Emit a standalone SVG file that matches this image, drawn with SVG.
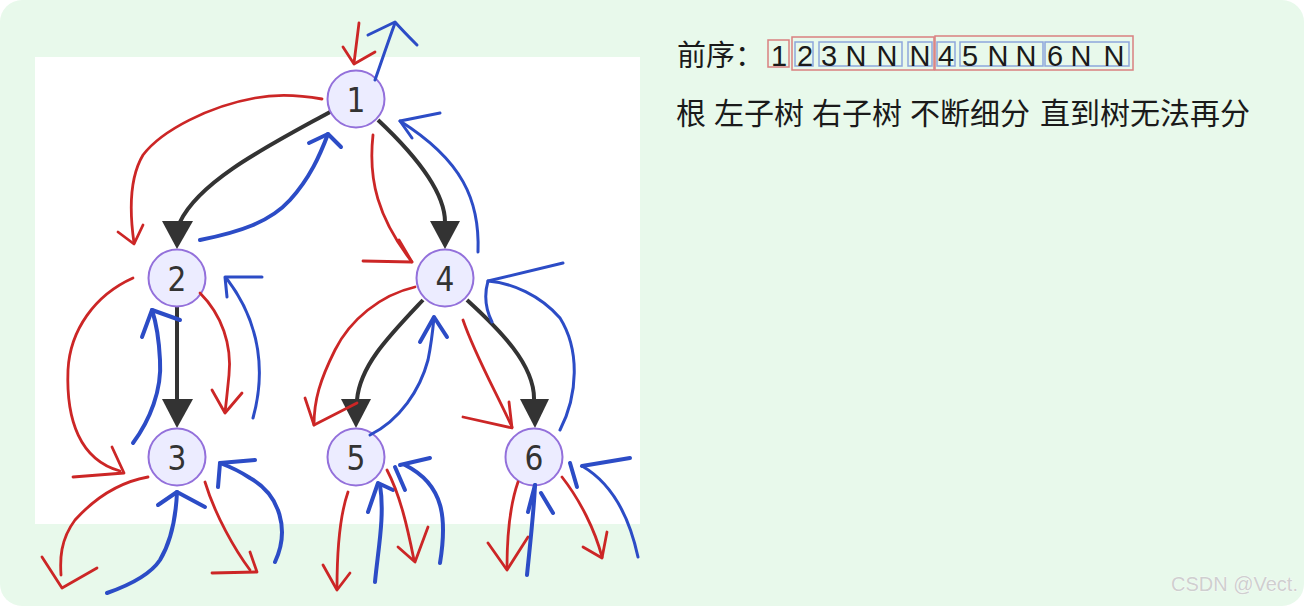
<svg xmlns="http://www.w3.org/2000/svg" width="1304" height="606" viewBox="0 0 1304 606">
<defs>
<style>
.bg{fill:#e8f9eb}
.panel{fill:#ffffff}
.node circle{fill:#ececff;stroke:#9370db;stroke-width:2}
.node text{font-family:"DejaVu Sans","Noto Sans",sans-serif;font-stretch:condensed;font-size:33px;fill:#333;text-anchor:middle}
.edge{fill:none;stroke:#333;stroke-width:4}
.head{fill:#333}
.r{fill:none;stroke:#cc2626;stroke-width:2.8;stroke-linecap:round;stroke-linejoin:round}
.b{fill:none;stroke:#2c4cc6;stroke-width:3;stroke-linecap:round;stroke-linejoin:round}
.bt{stroke-width:4}
.t{font-family:"Noto Sans CJK SC","Noto Sans",sans-serif;fill:#1a1a1a}
.d{font-family:"Liberation Sans",Arial,sans-serif;font-size:29px;fill:#1a1a1a;text-anchor:middle}
.rb{fill:none;stroke:#d98080;stroke-width:1.5}
.bb{fill:none;stroke:#8da6dc;stroke-width:1.5}
.wm{font-family:"Liberation Sans",Arial,sans-serif;font-size:20px;fill:#cfcfcf;stroke:#ffffff;stroke-width:0.6;paint-order:stroke;text-anchor:end}
</style>
</defs>
<rect x="0" y="0" width="1304" height="606" fill="#ffffff"/>
<rect class="bg" x="0" y="0" width="1304" height="606" rx="22"/>
<rect class="panel" x="35" y="57" width="605" height="467"/>

<g id="connectors">
<path class="edge" d="M330,112 C 270,145 200,180 180,222"/>
<polygon class="head" points="162,221 193,221 177,249"/>
<path class="edge" d="M378,120 C 410,150 445,190 445,222"/>
<polygon class="head" points="430,221 460,221 445,249"/>
<path class="edge" d="M177,307 L177,400"/>
<polygon class="head" points="162,399 193,399 177,428"/>
<path class="edge" d="M423,300 C 390,335 360,365 357,400"/>
<polygon class="head" points="341,399 371,399 356,428"/>
<path class="edge" d="M467,300 C 500,330 535,365 534,400"/>
<polygon class="head" points="520,399 549,399 535,428"/>
</g>

<g id="node1" class="node"><circle cx="356" cy="99" r="28.5"/><text x="356" y="112">1</text></g>
<g id="node2" class="node"><circle cx="177" cy="278" r="28.5"/><text x="177" y="291">2</text></g>
<g id="node3" class="node"><circle cx="177" cy="457" r="28.5"/><text x="177" y="470">3</text></g>
<g id="node4" class="node"><circle cx="445" cy="278" r="28.5"/><text x="445" y="291">4</text></g>
<g id="node5" class="node"><circle cx="356" cy="457" r="28.5"/><text x="356" y="470">5</text></g>
<g id="node6" class="node"><circle cx="534" cy="457" r="28.5"/><text x="534" y="470">6</text></g>

<g id="annotations">
<path class="r" d="M359,23 L354,63"/>
<path class="r" d="M343,47 L354,64 L375,52"/>
<path class="b" d="M375,80 C 382,60 388,42 395,23"/>
<path class="b" d="M368,35 L395,22 C 402,30 410,38 417,45"/>
<path class="r" d="M322,99 C 300,95 275,94 255,98 C 210,106 162,130 143,155 C 128,180 130,215 134,243"/>
<path class="r" d="M118,232 L134,244 L143,225"/>
<path class="b bt" d="M200,240 C 240,232 270,222 290,200 C 310,178 320,155 328,134"/>
<path class="b bt" d="M309,143 L328,134 L341,147"/>
<path class="r" d="M373,135 C 368,180 378,218 412,262"/>
<path class="r" d="M363,261 L412,262 L399,240"/>
<path class="b" d="M478,252 C 480,200 462,160 400,121"/>
<path class="b" d="M440,113 L400,121 L412,138"/>
<path class="r" d="M133,278 C 95,295 70,330 68,370 C 66,420 80,460 120,471"/>
<path class="r" d="M73,477 L124,473 L112,447"/>
<path class="b bt" d="M133,443 C 150,420 162,390 160,360 C 159,340 156,322 152,310"/>
<path class="b bt" d="M142,337 L152,310 L180,320"/>
<path class="r" d="M200,293 C 222,315 232,345 229,375 C 227,395 226,405 225,412"/>
<path class="r" d="M212,390 L225,413 L242,393"/>
<path class="b" d="M253,418 C 265,375 262,325 227,279"/>
<path class="b" d="M262,277 L225,277 L227,297"/>
<path class="r" d="M415,287 C 380,295 350,320 335,350 C 320,380 314,400 314,425"/>
<path class="r" d="M305,398 L314,425 L357,403"/>
<path class="b" d="M370,435 C 400,420 420,390 428,360 C 432,340 433,328 434,317"/>
<path class="b bt" d="M420,342 L434,317 L447,337"/>
<path class="r" d="M463,320 C 475,355 495,390 512,427"/>
<path class="r" d="M463,417 L512,428 L509,402"/>
<path class="b" d="M560,430 C 578,395 580,350 560,318 C 540,295 512,283 488,281"/>
<path class="b" d="M563,263 L488,281 C 484,295 486,310 492,322"/>
<path class="r" d="M148,477 C 120,482 95,498 75,520 C 60,540 60,560 61,575"/>
<path class="r" d="M42,557 L62,588 L97,568"/>
<path class="b bt" d="M107,593 C 130,585 150,575 160,560 C 172,540 176,515 177,492"/>
<path class="b bt" d="M158,505 L177,492 L205,507"/>
<path class="r" d="M205,482 C 215,515 235,550 250,570"/>
<path class="r" d="M212,573 L257,572 L250,552"/>
<path class="b bt" d="M275,562 C 290,530 280,495 250,478 C 238,470 228,466 220,463"/>
<path class="b bt" d="M255,460 L220,463 L218,487"/>
<path class="r" d="M348,492 C 340,515 337,550 337,588"/>
<path class="r" d="M323,565 L337,590 L350,573"/>
<path class="b bt" d="M375,582 C 378,550 385,515 380,485"/>
<path class="b bt" d="M368,512 L378,483 L393,490"/>
<path class="r" d="M387,470 C 400,495 407,525 414,560"/>
<path class="r" d="M398,547 L415,562 L428,527"/>
<path class="b bt" d="M395,467 L405,490"/>
<path class="b bt" d="M440,563 C 447,520 445,485 405,465"/>
<path class="b bt" d="M430,458 L400,465"/>
<path class="r" d="M518,482 C 510,505 507,540 507,568"/>
<path class="r" d="M488,543 L507,570 L528,537"/>
<path class="b bt" d="M527,575 C 530,545 534,510 535,485"/>
<path class="b bt" d="M528,512 L535,485"/>
<path class="b bt" d="M541,493 L553,513"/>
<path class="r" d="M562,477 C 580,500 595,530 602,557"/>
<path class="r" d="M583,547 L602,558 L607,532"/>
<path class="b bt" d="M570,463 L577,487"/>
<path class="b" d="M638,557 C 630,520 615,485 582,466"/>
<path class="b bt" d="M630,458 L582,466"/>
</g>

<g id="preorder">
<text class="t" x="677" y="66" font-size="29">前序：</text>
<rect class="rb" x="768" y="40" width="21" height="27"/>
<rect class="rb" x="792" y="37" width="142" height="33"/>
<rect class="bb" x="795" y="42" width="18" height="24"/>
<rect class="bb" x="819" y="42" width="83" height="24"/>
<rect class="bb" x="908" y="42" width="24" height="24"/>
<rect class="rb" x="935" y="36" width="198" height="34"/>
<rect class="bb" x="937" y="42" width="18" height="24"/>
<rect class="bb" x="960" y="42" width="83" height="24"/>
<rect class="bb" x="1045" y="42" width="84" height="24"/>
<text class="d" x="779" y="66">1</text>
<text class="d" x="805" y="66">2</text>
<text class="d" x="829" y="66">3</text>
<text class="d" x="856" y="66">N</text>
<text class="d" x="887" y="66">N</text>
<text class="d" x="920" y="66">N</text>
<text class="d" x="946" y="66">4</text>
<text class="d" x="970" y="66">5</text>
<text class="d" x="998" y="66">N</text>
<text class="d" x="1026" y="66">N</text>
<text class="d" x="1055" y="66">6</text>
<text class="d" x="1081" y="66">N</text>
<text class="d" x="1114" y="66">N</text>
</g>
<g id="caption" class="t" font-size="30">
<text x="676" y="124">根</text>
<text x="714" y="124">左子树</text>
<text x="812" y="124">右子树</text>
<text x="910" y="124">不断细分</text>
<text x="1040" y="124">直到树无法再分</text>
</g>
<text class="wm" x="1298" y="591">CSDN @Vect.</text>
</svg>
